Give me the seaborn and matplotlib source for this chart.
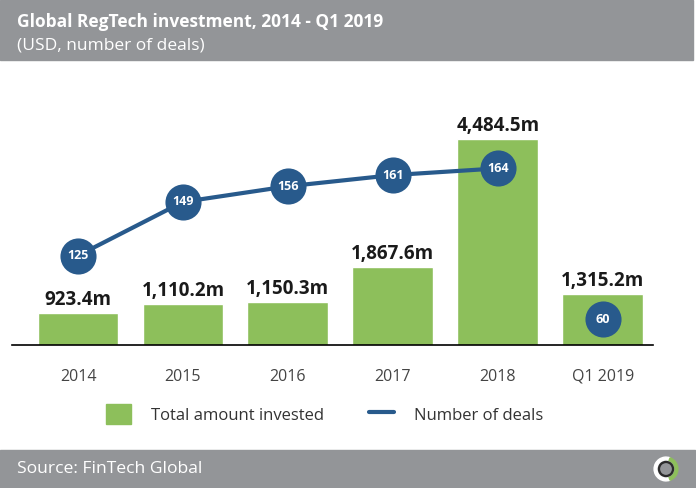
import numpy as np
import pandas as pd
import seaborn as sns
import matplotlib.pyplot as plt
from matplotlib.patches import Rectangle, Patch, Circle, Wedge
from matplotlib.lines import Line2D

# data
periods = ['2014', '2015', '2016', '2017', '2018', 'Q1 2019']
invested = [923.4, 1110.2, 1150.3, 1867.6, 4484.5, 1315.2]
deals = [125, 149, 156, 161, 164, 60]

green = '#8dbf5b'
blue = '#285a8c'
band = '#939598'

sns.set_theme(style='white')
plt.rcParams['font.family'] = ['Open Sans', 'DejaVu Sans']

df = pd.DataFrame({'period': periods, 'invested': invested, 'deals': deals})
full_years = df[df['period'] != 'Q1 2019'].copy()
full_years['x'] = full_years.index

fig = plt.figure(figsize=(6.96, 4.88), dpi=100)

# header and footer bands
fig.patches.append(Rectangle((0, 428 / 488), 693 / 696, 60 / 488, transform=fig.transFigure,
                             color=band, zorder=-5))
fig.patches.append(Rectangle((0, 0), 695 / 696, 38 / 488, transform=fig.transFigure,
                             color=band, zorder=-5))

ax = fig.add_axes([0.0172, 0.293, 0.921, 0.5635])
ax.patch.set_alpha(0)

sns.barplot(data=df, x='period', y='invested', order=periods, color=green,
            saturation=1, width=0.77, ax=ax)
ax.set_ylim(268, 5896)
ax.set_xlim(-0.63, 5.48)

bars = ax.containers[0]
ax.bar_label(bars, labels=[f'{v:,.1f}m' for v in invested], padding=2,
             fontsize=13.5, fontweight='bold', color='#1a1a1a')

# number of deals on its own scale
ax2 = ax.twinx()
sns.lineplot(data=full_years, x='x', y='deals', color=blue, linewidth=3,
             marker='o', markersize=26, markeredgewidth=0, ax=ax2)
ax2.set_ylim(85, 208)
for _, row in full_years.iterrows():
    ax2.text(row['x'], row['deals'], str(row['deals']), ha='center', va='center',
             color='white', fontsize=9, fontweight='bold')

# Q1 2019 deal count sits inside its bar
q1 = df.index[-1]
q1_y = (ax.get_ylim()[0] + invested[-1]) / 2
ax.plot([q1], [q1_y], marker='o', markersize=26, color=blue, markeredgewidth=0)
ax.text(q1, q1_y, str(deals[-1]), ha='center', va='center', color='white',
        fontsize=9, fontweight='bold')

for a in (ax, ax2):
    for side in ('top', 'right', 'left'):
        a.spines[side].set_visible(False)
    a.set_yticks([])
    a.set_ylabel('')
ax.spines['bottom'].set_color('black')
ax.spines['bottom'].set_linewidth(1.2)
ax2.spines['bottom'].set_visible(False)
ax.set_xlabel('')
ax.tick_params(axis='x', length=0, pad=17, labelsize=11.5, labelcolor='#444444')

fig.text(17 / 696, 1 - 22 / 488, 'Global RegTech investment, 2014 - Q1 2019', color='white',
         fontsize=12.5, fontweight='bold', va='center')
fig.text(17 / 696, 1 - 45 / 488, '(USD, number of deals)', color='white',
         fontsize=12.5, va='center')
fig.text(17 / 696, 19 / 488, 'Source: FinTech Global', color='white',
         fontsize=12.6, va='center')

# small logo
lx, ly = 666 / 696, 19 / 488
logo = fig.add_axes([lx - 14 / 696, ly - 14 / 488, 28 / 696, 28 / 488], zorder=10)
logo.set_xlim(-1, 1)
logo.set_ylim(-1, 1)
logo.axis('off')
logo.add_patch(Wedge((0, 0), 0.85, 70, 290, width=0.2, color='white'))
logo.add_patch(Wedge((0, 0), 0.85, 290, 70, width=0.2, color=green))
logo.add_patch(Circle((0, 0), 0.5, fill=False, edgecolor='#2b2b2b', linewidth=1.6))

handles = [Patch(color=green), Line2D([0], [0], color=blue, linewidth=3)]
fig.legend(handles, ['Total amount invested', 'Number of deals'], loc='center',
           bbox_to_anchor=(325 / 696, 1 - 414 / 488), ncol=2, frameon=False,
           fontsize=12, handlelength=1.45, handleheight=1.45, columnspacing=2.7,
           handletextpad=1.25, labelcolor='#333333')

fig.savefig('out.png', dpi=100)
